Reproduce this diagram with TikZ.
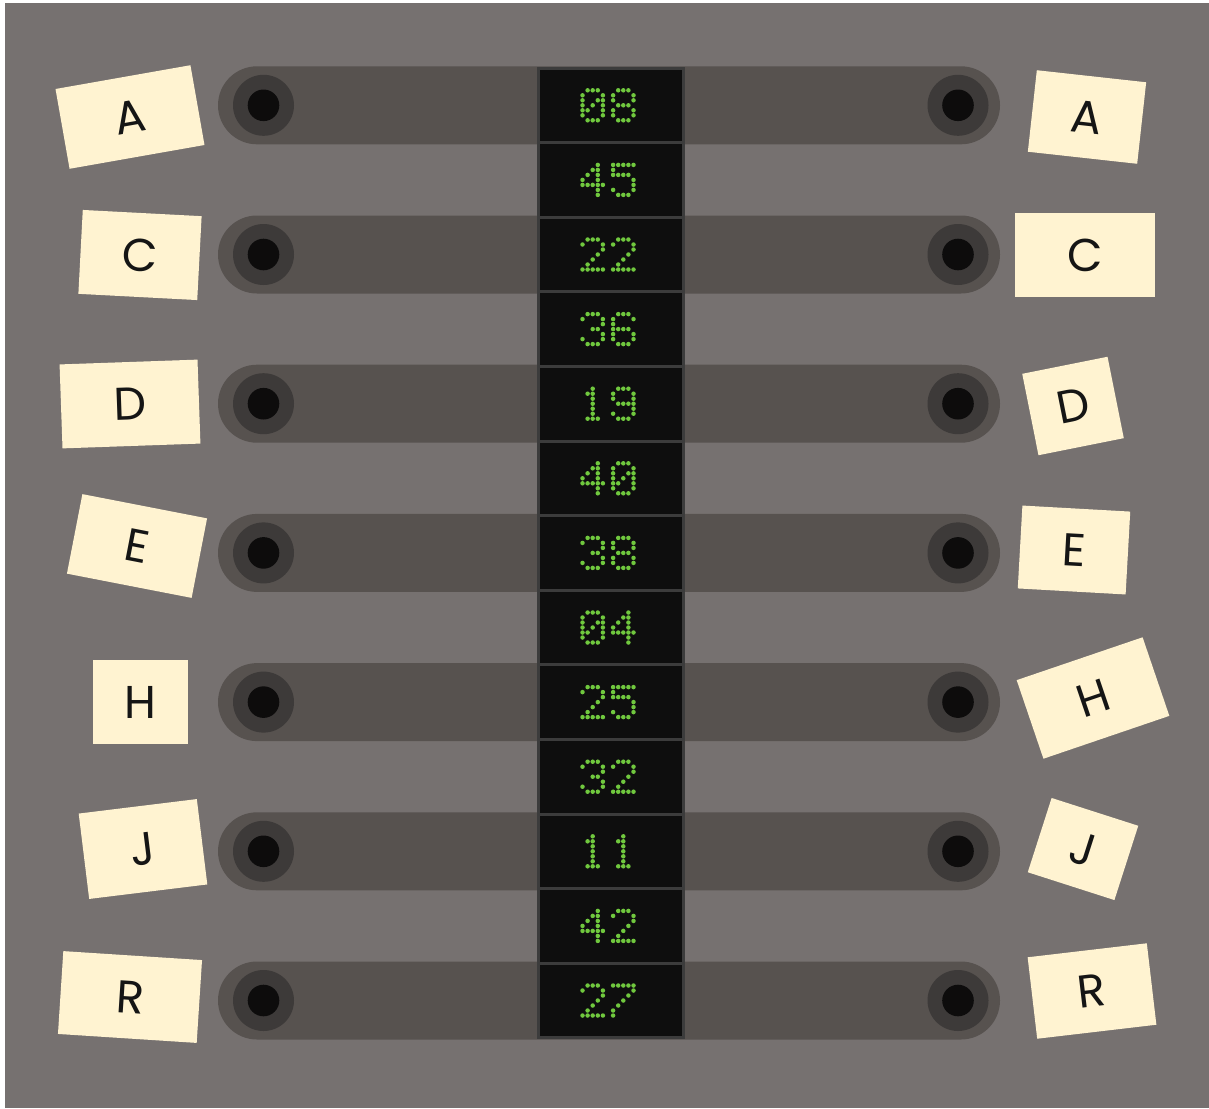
\documentclass[tikz,border=0pt]{standalone}
\usepackage{fontspec}
\setmainfont{Poppins}
\definecolor{panel}{HTML}{767170}
\definecolor{barc}{HTML}{57524F}
\definecolor{ringc}{HTML}{3D3A39}
\definecolor{holec}{HTML}{0D0C0C}
\definecolor{cellfill}{HTML}{0E0E0E}
\definecolor{cellborder}{HTML}{3C3C3C}
\definecolor{dotc}{HTML}{70C83E}
\definecolor{notec}{HTML}{FFF3D1}
\definecolor{inkc}{HTML}{151515}
\expandafter\def\csname dig0\endcsname{{01110}{10001}{10011}{10101}{11001}{10001}{01110}}
\expandafter\def\csname dig1\endcsname{{00100}{01100}{00100}{00100}{00100}{00100}{01110}}
\expandafter\def\csname dig2\endcsname{{01110}{10001}{00001}{00010}{00100}{01000}{11111}}
\expandafter\def\csname dig3\endcsname{{01110}{10001}{00001}{00110}{00001}{10001}{01110}}
\expandafter\def\csname dig4\endcsname{{00010}{00110}{01010}{10010}{11111}{00010}{00010}}
\expandafter\def\csname dig5\endcsname{{11111}{10000}{11110}{00001}{00001}{10001}{01110}}
\expandafter\def\csname dig6\endcsname{{01110}{10001}{10000}{11110}{10001}{10001}{01110}}
\expandafter\def\csname dig7\endcsname{{11111}{00001}{00010}{00100}{01000}{10000}{10000}}
\expandafter\def\csname dig8\endcsname{{01110}{10001}{10001}{01110}{10001}{10001}{01110}}
\expandafter\def\csname dig9\endcsname{{01110}{10001}{10001}{01111}{00001}{10001}{01110}}
\def\dotif#1#2#3{\ifnum#3=1 \fill[dotc] (\dxo+#1*5.1,\cy+#2*5-15) circle[radius=2.25];\fi}
\def\drawrow#1#2#3#4#5#6{\dotif{0}{#1}{#2}\dotif{1}{#1}{#3}\dotif{2}{#1}{#4}\dotif{3}{#1}{#5}\dotif{4}{#1}{#6}}
\def\drawrows#1#2#3#4#5#6#7{\drawrow{0}#1\drawrow{1}#2\drawrow{2}#3\drawrow{3}#4\drawrow{4}#5\drawrow{5}#6\drawrow{6}#7}
\def\drawdig#1#2{\def\dxo{#2}\expandafter\expandafter\expandafter\drawrows\csname dig#1\endcsname}
\def\twodig#1#2{\drawdig{#1}{582.5}\drawdig{#2}{613.1}}
\begin{document}
\begin{tikzpicture}[x=1pt,y=-1pt,
  cellbox/.style={draw=cellborder, fill=cellfill, line width=3pt, minimum width=145pt, minimum height=74.6pt, inner sep=0pt},
  note/.style={fill=notec, inner sep=0pt, text=inkc, font=\fontsize{46}{46}\selectfont}]
\useasboundingbox (0,0) rectangle (1209,1108);
\fill[white] (0,0) rectangle (1209,1108);
\fill[panel] (5,3) rectangle (1209,1108);
% bars with sockets
\foreach \k in {0,...,6} {
  \pgfmathsetmacro\yc{105.3+149.2*\k}
  \fill[barc, rounded corners=39pt] (218,\yc-39) rectangle (1000,\yc+39);
  \fill[ringc] (263.5,\yc) circle[radius=30.5];
  \fill[holec] (263.5,\yc) circle[radius=15.8];
  \fill[ringc] (958,\yc) circle[radius=30.5];
  \fill[holec] (958,\yc) circle[radius=15.8];
}
% display cells
\foreach \i/\num in {0/08,1/45,2/22,3/36,4/19,5/40,6/38,7/04,8/25,9/32,10/11,11/42,12/27} {
  \pgfmathsetmacro\cy{105.3+74.6*\i}
  \node[cellbox] (cell\i) at (610.5,\cy) {};
  \expandafter\twodig\num
}
% left notes
\node[note, minimum width=137pt, minimum height=81pt, rotate=10] (lA) at (130,117) {A};
\node[note, minimum width=119pt, minimum height=84pt, rotate=-3] (lC) at (140,255) {C};
\node[note, minimum width=138pt, minimum height=84pt, rotate=2] (lD) at (130,404) {D};
\node[note, minimum width=127pt, minimum height=81pt, rotate=-11] (lE) at (137,546) {E};
\node[note, minimum width=95pt, minimum height=84pt] (lH) at (140.5,702) {H};
\node[note, minimum width=119pt, minimum height=86pt, rotate=7] (lJ) at (143,849) {J};
\node[note, minimum width=139pt, minimum height=83pt, rotate=-3.7] (lR) at (130,997) {R};
% right notes
\node[note, minimum width=110pt, minimum height=82pt, rotate=-6.3] (rA) at (1087,117) {A};
\node[note, minimum width=140pt, minimum height=84pt] (rC) at (1085,255) {C};
\node[note, minimum width=87pt, minimum height=83pt, rotate=11.3] (rD) at (1073,406) {D};
\node[note, minimum width=108pt, minimum height=83pt, rotate=-3.2] (rE) at (1074,550) {E};
\node[note, minimum width=133pt, minimum height=83pt, rotate=18.8] (rH) at (1093,698) {H};
\node[note, minimum width=91pt, minimum height=78pt, rotate=-17.8] (rJ) at (1083,849) {J};
\node[note, minimum width=120pt, minimum height=82pt, rotate=6.7] (rR) at (1092,991) {R};
\end{tikzpicture}
\end{document}
